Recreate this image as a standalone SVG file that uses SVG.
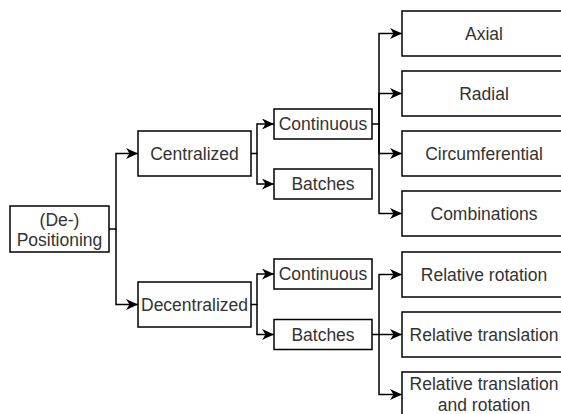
<svg xmlns="http://www.w3.org/2000/svg" width="561" height="414" viewBox="0 0 561 414">
<style>
.box{fill:#fff;stroke:#000;stroke-width:1.5}
.t{font-family:"Liberation Sans",Arial,sans-serif;font-size:17.5px;fill:#333;text-anchor:middle}
.c{fill:none;stroke:#000;stroke-width:1.5}
</style>
<defs>
<marker id="ah" viewBox="0 0 12 11" markerWidth="12" markerHeight="11" refX="12" refY="5.5" orient="auto" markerUnits="userSpaceOnUse">
<path d="M0,0 L12,5.5 L0,11 L3.5,5.5 Z" fill="#000"/>
</marker>
</defs>
<rect width="561" height="414" fill="#fff"/>
<g id="connectors">
<path class="c" d="M109,229 H116 V153.5 H138" marker-end="url(#ah)"/>
<path class="c" d="M116,229 V304.5 H138" marker-end="url(#ah)"/>
<path class="c" d="M251,153.5 H257 V124 H274" marker-end="url(#ah)"/>
<path class="c" d="M257,153.5 V184 H274" marker-end="url(#ah)"/>
<path class="c" d="M372,124 H379 V33.5 H402" marker-end="url(#ah)"/>
<path class="c" d="M379,124 V93.5 H402" marker-end="url(#ah)"/>
<path class="c" d="M379,124 V153.5 H402" marker-end="url(#ah)"/>
<path class="c" d="M379,124 V213.5 H402" marker-end="url(#ah)"/>
<path class="c" d="M251,304.5 H257 V274 H274" marker-end="url(#ah)"/>
<path class="c" d="M257,304.5 V334.5 H274" marker-end="url(#ah)"/>
<path class="c" d="M372,334.5 H379 V274.5 H402" marker-end="url(#ah)"/>
<path class="c" d="M379,334.5 H402" marker-end="url(#ah)"/>
<path class="c" d="M379,334.5 V394.5 H402" marker-end="url(#ah)"/>
</g>
<g id="root"><rect class="box" x="10" y="206" width="99" height="46"/><text class="t" x="59.5" y="225.5">(De-)</text><text class="t" x="59.5" y="245.5">Positioning</text></g>
<g id="centralized"><rect class="box" x="138" y="131" width="113" height="45"/><text class="t" x="194.5" y="159.5">Centralized</text></g>
<g id="decentralized"><rect class="box" x="138" y="282" width="113" height="45"/><text class="t" x="194.5" y="310.5">Decentralized</text></g>
<g id="c-continuous"><rect class="box" x="274" y="109" width="98" height="30"/><text class="t" x="323" y="130">Continuous</text></g>
<g id="c-batches"><rect class="box" x="274" y="169" width="98" height="30"/><text class="t" x="323" y="190">Batches</text></g>
<g id="d-continuous"><rect class="box" x="274" y="259" width="98" height="30"/><text class="t" x="323" y="280">Continuous</text></g>
<g id="d-batches"><rect class="box" x="274" y="319.5" width="98" height="30"/><text class="t" x="323" y="340.5">Batches</text></g>
<g id="axial"><rect class="box" x="402" y="11" width="164" height="45"/><text class="t" x="484" y="39.5">Axial</text></g>
<g id="radial"><rect class="box" x="402" y="71" width="164" height="45"/><text class="t" x="484" y="99.5">Radial</text></g>
<g id="circumferential"><rect class="box" x="402" y="131" width="164" height="45"/><text class="t" x="484" y="159.5">Circumferential</text></g>
<g id="combinations"><rect class="box" x="402" y="191" width="164" height="45"/><text class="t" x="484" y="219.5">Combinations</text></g>
<g id="rel-rotation"><rect class="box" x="402" y="252" width="164" height="45"/><text class="t" x="484" y="280.5">Relative rotation</text></g>
<g id="rel-translation"><rect class="box" x="402" y="312" width="164" height="45"/><text class="t" x="484" y="340.5">Relative translation</text></g>
<g id="rel-trans-rot"><rect class="box" x="402" y="372" width="164" height="45"/><text class="t" x="484" y="390">Relative translation</text><text class="t" x="484" y="411">and rotation</text></g>
</svg>
